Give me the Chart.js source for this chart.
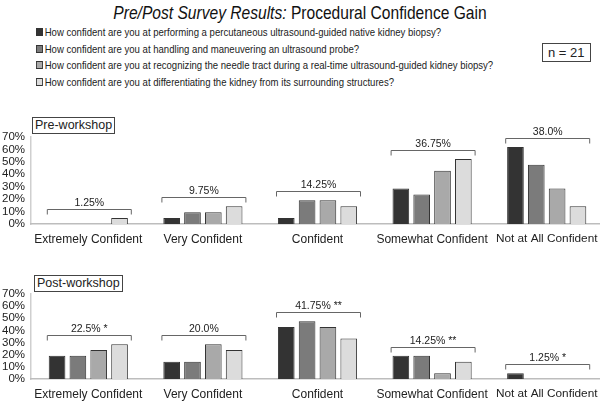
<!DOCTYPE html>
<html>
<head>
<meta charset="utf-8">
<script src="https://cdn.jsdelivr.net/npm/chart.js@4.4.1/dist/chart.umd.min.js"></script>
<style>
  body { margin: 0; background: #fff; font-family: "Liberation Sans", Arial, sans-serif; color: #222; }
  #wrap { position: relative; width: 600px; height: 401px; overflow: hidden; }
  #title { position: absolute; left: 0; top: 2px; width: 600px; text-align: center; font-size: 19px; color: #111; transform: scaleX(0.82); }
  #legend { position: absolute; left: 36px; top: 24px; font-size: 11px; line-height: 16.5px; transform: scaleX(0.87); transform-origin: left top; }
  #legend div { white-space: nowrap; }
  #legend span.sw { display: inline-block; width: 6px; height: 6px; border: 1px solid #333; margin-right: 2px; vertical-align: 0px; }
  .box { position: absolute; border: 1.5px solid #444; font-size: 12.5px; padding: 0 2px; line-height: 15px; background: #fff; }
  #nbox { left: 542px; top: 43px; padding: 1px 5px; font-size: 13px; }
  #preBox { left: 32px; top: 117px; }
  #postBox { left: 34px; top: 275px; }
  canvas { position: absolute; left: 0; }
  #preChart { top: 110px; }
  #postChart { top: 265px; }
</style>
</head>
<body>
<div id="wrap">
  <div id="title"><i>Pre/Post Survey Results:</i> Procedural Confidence Gain</div>
  <div id="legend"></div>
  <div class="box" id="nbox">n = 21</div>
  <canvas id="preChart" width="604" height="140"></canvas>
  <canvas id="postChart" width="604" height="136"></canvas>
  <div class="box" id="preBox">Pre-workshop</div>
  <div class="box" id="postBox">Post-workshop</div>
</div>
<script>
const categories = ['Extremely Confident', 'Very Confident', 'Confident', 'Somewhat Confident', 'Not at All Confident'];
const questions = [
    'How confident are you at performing a percutaneous ultrasound-guided native kidney biopsy?',
    'How confident are you at handling and maneuvering an ultrasound probe?',
    'How confident are you at recognizing the needle tract during a real-time ultrasound-guided kidney biopsy?',
    'How confident are you at differentiating the kidney from its surrounding structures?'
];
const colors = ['#333333', '#7b7b7b', '#a9a9a9', '#dcdcdc'];

// percent of respondents, one array per question
const preQ1 = [0, 4.76, 4.76, 28.57, 61.9];
const preQ2 = [0, 9.52, 19.05, 23.81, 47.62];
const preQ3 = [0, 9.52, 19.05, 42.86, 28.57];
const preQ4 = [4.76, 14.29, 14.29, 52.38, 14.29];
const preLabels = ['1.25%', '9.75%', '14.25%', '36.75%', '38.0%'];

const postQ1 = [19.05, 14.29, 42.86, 19.05, 4.76];
const postQ2 = [19.05, 14.29, 47.62, 19.05, 0];
const postQ3 = [23.81, 28.57, 42.86, 4.76, 0];
const postQ4 = [28.57, 23.81, 33.33, 14.29, 0];
const postLabels = ['22.5% *', '20.0%', '41.75% **', '14.25% **', '1.25% *'];

// legend
const legendEl = document.getElementById('legend');
questions.forEach((q, i) => {
    const row = document.createElement('div');
    row.innerHTML = `<span class="sw" style="background:${colors[i]}"></span>${q}`;
    legendEl.appendChild(row);
});

// bracket + average label above each group
const bracketPlugin = {
    id: 'brackets',
    afterDatasetsDraw(chart, args, opts) {
        const { ctx, scales: { x, y } } = chart;
        ctx.save();
        categories.forEach((c, i) => {
            let max = 0;
            chart.data.datasets.forEach(ds => { if (ds.data[i] > max) max = ds.data[i]; });
            const cx = x.getPixelForValue(i) + 1;
            const by = Math.round(y.getPixelForValue(max) - 9) + 0.5;
            const hw = 42;
            ctx.strokeStyle = '#666';
            ctx.lineWidth = 1;
            ctx.beginPath();
            ctx.moveTo(cx - hw, by + 5);
            ctx.lineTo(cx - hw, by);
            ctx.lineTo(cx + hw, by);
            ctx.lineTo(cx + hw, by + 5);
            ctx.stroke();
            ctx.fillStyle = '#222';
            ctx.font = '10.5px "Liberation Sans", Arial, sans-serif';
            ctx.textAlign = 'center';
            ctx.textBaseline = 'bottom';
            ctx.fillText(opts.labels[i], cx, by - 1);
        });
        ctx.restore();
    }
};

function makeChart(id, series, labels, topPad, xHeight) {
    const ctx = document.getElementById(id);
    return new Chart(ctx, {
        type: 'bar',
        data: {
            labels: categories,
            datasets: series.map((d, i) => ({
                label: questions[i],
                data: d,
                backgroundColor: colors[i],
                borderColor: '#333',
                borderWidth: c => (c.raw > 0 ? 1 : 0),
                borderSkipped: 'start',
                categoryPercentage: 0.727,
                barPercentage: 0.8
            }))
        },
        options: {
            responsive: false,
            animation: false,
            layout: { padding: { top: topPad, right: 0, left: 0, bottom: 0 } },
            scales: {
                y: {
                    min: 0, max: 70,
                    ticks: { stepSize: 10, autoSkip: false, color: '#222', padding: 6, font: { size: 11.5, family: '"Liberation Sans", Arial' }, callback: v => v + '%' },
                    grid: { display: false, drawTicks: false },
                    border: { color: '#cfcfcf', width: 1.5 },
                    afterFit: s => { s.width = 31; }
                },
                x: {
                    ticks: {
                        color: '#222', padding: 8, maxRotation: 0, autoSkip: false,
                        font: c => ({ size: c.index === 4 ? 11.8 : 12, family: '"Liberation Sans", Arial' })
                    },
                    grid: { display: false, drawTicks: false },
                    border: { color: '#bdbdbd', width: 1.5 },
                    afterFit: s => { s.height = xHeight; s.paddingLeft = 0; s.paddingRight = 0; }
                }
            },
            plugins: {
                legend: { display: false },
                tooltip: { enabled: false },
                brackets: { labels: labels }
            }
        },
        plugins: [bracketPlugin]
    });
}

makeChart('preChart', [preQ1, preQ2, preQ3, preQ4], preLabels, 27, 26);
makeChart('postChart', [postQ1, postQ2, postQ3, postQ4], postLabels, 29, 22);
</script>
</body>
</html>
